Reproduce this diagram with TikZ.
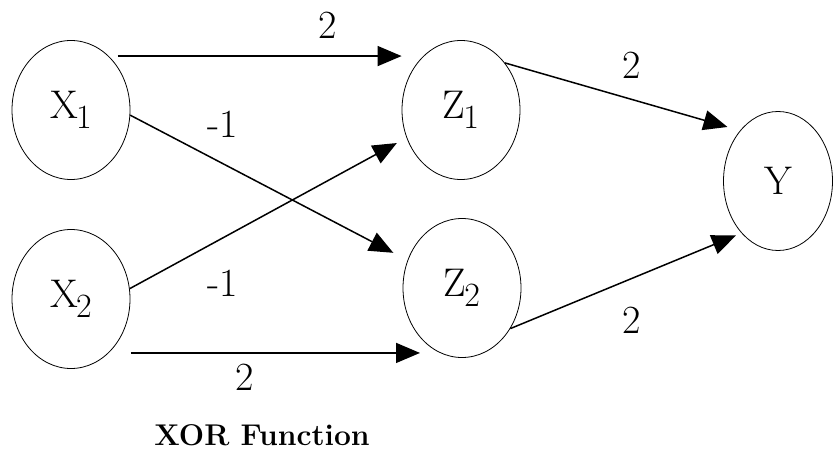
\documentclass[tikz,border=0pt]{standalone}
\usetikzlibrary{shapes.geometric,arrows.meta}

% letter with a lowered index
\newcommand{\unitname}[2]{#1\kern-1pt\raisebox{-5pt}{\fontsize{17}{17}\selectfont #2}}

\begin{document}
\begin{tikzpicture}[x=0.5pt, y=-0.5pt,
    neuron/.style={ellipse, draw, thin, minimum width=59pt, minimum height=69.5pt,
                   inner sep=0pt, font=\fontsize{20}{24}\selectfont},
    link/.style={-{Triangle[length=12pt,width=10pt]}, line width=0.75pt},
    weight/.style={font=\fontsize{20}{24}\selectfont}]

    \useasboundingbox (0,0) rectangle (833,454);

    % Define units with coordinates
    \node[neuron] (X1) at (71,110) {\unitname{X}{1}};
    \node[neuron] (X2) at (71,299) {\unitname{X}{2}};
    \node[neuron] (Z1) at (461,110) {\unitname{Z}{1}};
    \node[neuron] (Z2) at (462,288) {\unitname{Z}{2}};
    \node[neuron, minimum width=54.5pt] (Y) at (778,181) {Y};

    % Draw weighted links from input to hidden layer
    \draw[link] ([xshift=4.5pt]X1.55) -- (Z1.west |- X1.55);
    \draw[link, shorten >=8pt] (X1.-5) -- (Z2.153);
    \draw[link, shorten >=5.5pt] (X2.10) -- (Z1.207);
    \draw[link] ([xshift=11pt]X2.-55) -- (Z2.south west |- X2.-55);
    % Draw links from hidden layer to output
    \draw[link, shorten >=6.5pt] (Z1.47) -- (Y.127);
    \draw[link, shorten >=3pt] (Z2.-40) -- (Y.235);

    % Weights
    \node[weight] (w11) at (328,25) {2};
    \node[weight] (w12) at (223,124) {-1};
    \node[weight] (w21) at (223,283) {-1};
    \node[weight] (w22) at (245,377) {2};
    \node[weight] (v1) at (632,65) {2};
    \node[weight] (v2) at (632,320) {2};

    \node[font=\bfseries\fontsize{15}{18}\selectfont] (title) at (262,435) {XOR Function};
\end{tikzpicture}
\end{document}
